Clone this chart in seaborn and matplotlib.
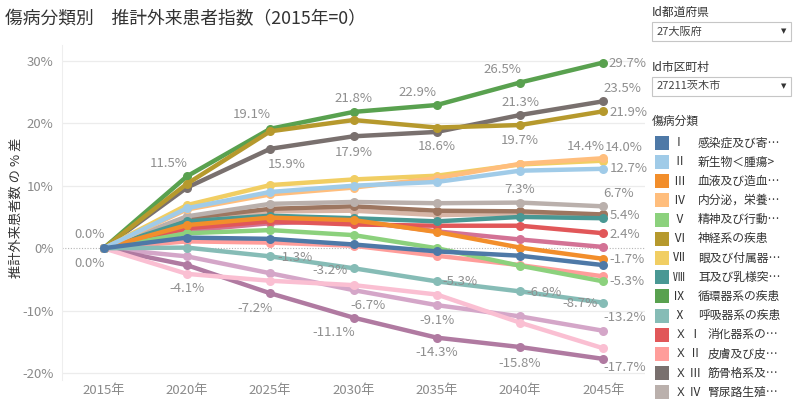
import matplotlib
matplotlib.use("Agg")
import matplotlib.pyplot as plt
from matplotlib.patches import Rectangle
import seaborn as sns
import pandas as pd

sns.set_theme(style="white")
plt.rcParams['font.family'] = ['Noto Sans CJK JP', 'DejaVu Sans']

# ---------------- data ----------------
years = [2015, 2020, 2025, 2030, 2035, 2040, 2045]
year_labels = ["2015年", "2020年", "2025年", "2030年", "2035年", "2040年", "2045年"]

numerals = ["Ⅰ", "Ⅱ", "Ⅲ", "Ⅳ", "Ⅴ", "Ⅵ", "Ⅶ", "Ⅷ", "Ⅸ", "Ⅹ",
            "ＸⅠ", "ＸⅡ", "ＸⅢ", "ＸⅣ", "ＸⅤ", "ＸⅥ", "ＸⅦ", "ＸⅧ", "ＸⅨ", "ＸＸⅠ"]
names = ["感染症及び寄…", "新生物＜腫瘍>", "血液及び造血…", "内分泌，栄養…",
         "精神及び行動…", "神経系の疾患", "眼及び付属器…", "耳及び乳様突…",
         "循環器系の疾患", "呼吸器系の疾患", "消化器系の…", "皮膚及び皮…",
         "筋骨格系及…", "腎尿路生殖…", "妊娠，分娩及…", "周産期に発…",
         "先天奇形，…", "症状，徴候…", "損傷，中毒…", "健康状態に…"]
colors = ["#4E79A7", "#A0CBE8", "#F28E2B", "#FFBE7D", "#8CD17D", "#B6992D",
          "#F1CE63", "#499894", "#59A14F", "#86BCB6", "#E15759", "#FF9D9A",
          "#79706E", "#BAB0AC", "#D37295", "#FABFD2", "#B07AA1", "#D4A6C8",
          "#9D7660", "#D7B5A6"]

v01 = [0, 1.7, 1.5, 0.6, -0.5, -1.2, -2.7]
v02 = [0, 6.4, 9.0, 10.0, 10.6, 12.4, 12.7]
v03 = [0, 3.7, 4.9, 4.5, 2.6, 0.1, -1.7]
v04 = [0, 6.2, 8.6, 9.7, 11.2, 13.5, 14.4]
v05 = [0, 2.4, 2.9, 2.1, 0.0, -2.8, -5.3]
v06 = [0, 10.3, 18.7, 20.5, 19.3, 19.7, 21.9]
v07 = [0, 6.9, 10.1, 11.0, 11.6, 13.4, 14.0]
v08 = [0, 4.3, 5.2, 4.8, 4.3, 5.0, 4.8]
v09 = [0, 11.5, 19.1, 21.8, 22.9, 26.5, 29.7]
v10 = [0, 0.1, -1.3, -3.2, -5.3, -6.9, -8.7]
v11 = [0, 3.2, 4.3, 3.8, 3.6, 3.6, 2.4]
v12 = [0, 1.1, 0.9, 0.4, -1.2, -2.7, -4.5]
v13 = [0, 9.7, 15.9, 17.9, 18.6, 21.3, 23.5]
v14 = [0, 5.1, 7.1, 7.4, 7.2, 7.3, 6.7]
v15 = [0, 2.8, 4.0, 4.4, 2.7, 1.4, 0.2]
v16 = [0, -4.1, -5.2, -5.9, -7.4, -11.9, -16.0]
v17 = [0, -2.7, -7.2, -11.1, -14.3, -15.8, -17.7]
v18 = [0, -1.3, -4.0, -6.7, -9.1, -10.9, -13.2]
v19 = [0, 4.8, 6.3, 6.7, 6.0, 5.9, 5.4]
v20 = [0, 4.3, 5.9, 6.0, 5.3, 5.5, 5.3]
values = [v01, v02, v03, v04, v05, v06, v07, v08, v09, v10,
          v11, v12, v13, v14, v15, v16, v17, v18, v19, v20]

cats = [f"{n}　{t}" for n, t in zip(numerals, names)]
rows = []
for c, vals in zip(cats, values):
    for y, v in zip(years, vals):
        rows.append({"年": y, "値": v, "分類": c})
df = pd.DataFrame(rows)
palette = dict(zip(cats, colors))

# ---------------- figure ----------------
W, H = 800, 405
fig = plt.figure(figsize=(8, 4.05), dpi=100)
fig.patch.set_facecolor("white")
ax = fig.add_axes([62 / W, 1 - 380 / H, (645 - 62) / W, (380 - 45) / H])

sns.lineplot(data=df, x="年", y="値", hue="分類", hue_order=cats[::-1],
             palette=palette, marker="o", markersize=6.5, markeredgewidth=0,
             linewidth=3.2, legend=False, ax=ax)

ax.set_xlim(2012.5, 2047.5)
ax.set_ylim(-21.07, 32.5)
ax.set_xticks(years)
ax.set_xticklabels(year_labels)
ax.set_yticks([-20, -10, 0, 10, 20, 30])
ax.set_yticklabels(["-20%", "-10%", "0%", "10%", "20%", "30%"])
ax.tick_params(axis="both", length=0, labelsize=9.5, labelcolor="#8a8a8a")
ax.tick_params(axis="y", pad=6)
ax.tick_params(axis="x", pad=3)
ax.set_xlabel("")
ax.set_ylabel("")
for y in [-20, -10, 10, 20, 30]:
    ax.axhline(y, color="#ececec", lw=0.9, zorder=0)
ax.axhline(0, color="#b5b5b5", lw=0.8, ls=(0, (1, 1.5)), zorder=0)
for s in ["top", "right", "bottom"]:
    ax.spines[s].set_visible(False)
ax.spines["left"].set_color("#eeeeee")
ax.spines["left"].set_linewidth(0.8)

# ---------------- data labels ----------------
# (series index, year index, dx px, dy px (screen, down positive), ha)
label_specs = [
    (8, 0, -14, -14, "center"), (16, 0, -14, 15, "center"),
    (8, 1, -18, -13, "center"), (8, 2, -18, -14, "center"),
    (8, 3, 0, -13, "center"), (8, 4, -19, -13, "center"),
    (8, 5, -18, -13, "center"), (8, 6, 5, 1, "left"),
    (12, 2, 17, 16, "center"), (12, 3, 0, 16, "center"),
    (12, 4, 0, 15, "center"), (12, 5, 0, -13, "center"),
    (12, 6, 0, -13, "left"),
    (5, 5, 0, 15, "center"), (5, 6, 6, 1, "left"),
    (3, 6, -18, -12, "center"), (6, 6, 1, -13, "left"),
    (1, 6, 6, 0, "left"),
    (13, 5, 0, -13, "center"), (13, 6, 0, -13, "left"),
    (18, 6, 6, 1, "left"), (10, 6, 6, 1, "left"),
    (2, 6, 6, 1, "left"), (4, 6, 6, 0, "left"),
    (9, 2, 7, 1, "left"), (9, 3, -6, 2, "right"),
    (9, 4, 6, 0, "left"), (9, 5, 6, 1, "left"),
    (9, 6, -6, 1, "right"),
    (15, 1, 0, 15, "center"),
    (17, 3, 15, 15, "center"), (17, 4, 0, 15, "center"),
    (17, 6, 0, -13, "left"),
    (16, 2, -15, 15, "center"), (16, 3, -20, 15, "center"),
    (16, 4, 0, 15, "center"), (16, 5, 0, 16, "center"),
    (16, 6, 0, 9, "left"),
]
for si, yi, dx, dy, ha in label_specs:
    v = values[si][yi]
    ax.annotate(f"{v:.1f}%", xy=(years[yi], v), xytext=(dx, -dy),
                textcoords="offset pixels", ha=ha, va="center",
                fontsize=9.5, color="#8f8f8f", zorder=10,
                annotation_clip=False)


def fx(x):
    return x / W


def fy(y):
    return 1 - y / H


# y-axis title
fig.text(fx(16), fy(208), "推計外来患者数 の % 差", rotation=90,
         fontsize=9.5, color="#333333", ha="center", va="center")

# ---------------- title ----------------
fig.text(fx(5), fy(19), "傷病分類別　推計外来患者指数（2015年=0）",
         fontsize=12.8, color="#333333", ha="left", va="center")

# ---------------- filter panel ----------------
dark = "#333333"
fig.text(fx(652), fy(12), "Id都道府県", fontsize=8.5, color=dark, va="center")
fig.text(fx(652), fy(67), "Id市区町村", fontsize=8.5, color=dark, va="center")
for (y0, txt) in [(22, "27大阪府"), (77, "27211茨木市")]:
    fig.patches.append(Rectangle((fx(652), fy(y0 + 19)), fx(139), 19 / H,
                                 transform=fig.transFigure, facecolor="white",
                                 edgecolor="#c6c6c6", lw=0.8))
    fig.text(fx(657), fy(y0 + 9.5), txt, fontsize=8, color="#444444", va="center")
    fig.text(fx(784), fy(y0 + 9.5), "▼", fontsize=5, color=dark,
             va="center", ha="center", family=["DejaVu Sans"])

fig.text(fx(652), fy(121), "傷病分類", fontsize=8.5, color=dark, va="center")
for i in range(14):
    yc = 142.7 + 19.2 * i
    fig.patches.append(Rectangle((fx(655), fy(yc + 7)), fx(14), 14 / H,
                                 transform=fig.transFigure,
                                 facecolor=colors[i], edgecolor="none"))
    if i < 10:
        fig.text(fx(679), fy(yc), numerals[i], fontsize=8.5, color=dark,
                 va="center", ha="center")
        fig.text(fx(698), fy(yc), names[i], fontsize=8.5, color=dark, va="center")
    else:
        fig.text(fx(675), fy(yc), "Ｘ " + numerals[i][1:], fontsize=8.5,
                 color=dark, va="center", ha="left")
        fig.text(fx(708), fy(yc), names[i], fontsize=8.5, color=dark, va="center")

fig.savefig("out.png", dpi=100, facecolor="white")
